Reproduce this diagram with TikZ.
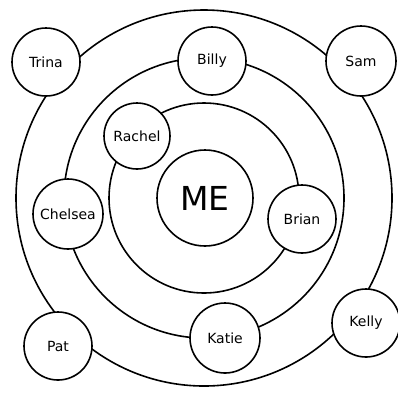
\documentclass[tikz,border=0pt]{standalone}
\usepackage{fontspec}
\setmainfont{DejaVu Sans}
\begin{document}
\begin{tikzpicture}[x=1pt,y=-1pt,line width=1.6pt,
  friend/.style={circle,draw,fill=white,minimum size=68pt,inner sep=0pt,font=\fontsize{14}{16}\selectfont}]
\useasboundingbox (0,0) rectangle (398,392);
\coordinate (c) at (204,198);
\draw (c) circle (188pt);
\draw (c) circle (140pt);
\draw (c) circle (95pt);
\node[friend,minimum size=96pt,font=\fontsize{33}{35}\selectfont] (me) at (205,198) {ME};
\node[friend] (trina) at (46,62) {Trina};
\node[friend] (billy) at (212,61) {Billy};
\node[friend,minimum size=70pt] (sam) at (361,61) {Sam};
\node[friend,minimum size=66pt] (rachel) at (137,136) {Rachel};
\node[friend,minimum size=70pt] (chelsea) at (68,214) {Chelsea};
\node[friend] (brian) at (302,219) {Brian};
\node[friend] (pat) at (58,346) {Pat};
\node[friend,minimum size=70pt] (katie) at (225,338) {Katie};
\node[friend] (kelly) at (366,323) {Kelly};
\end{tikzpicture}
\end{document}
